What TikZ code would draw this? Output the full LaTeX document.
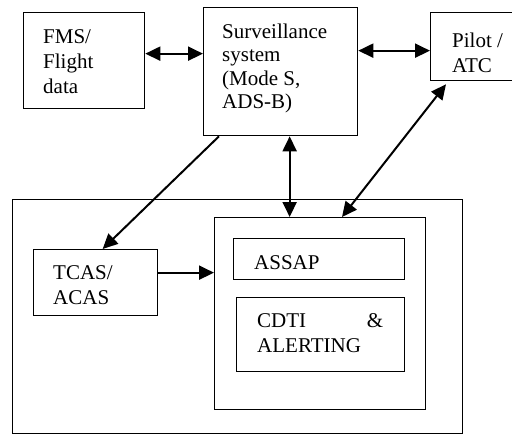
\documentclass[tikz,border=0pt]{standalone}
\usepackage{fontspec}
\setmainfont{Liberation Serif}
\usetikzlibrary{arrows.meta}
\tikzset{
  box/.style={draw, line width=1.3pt, inner sep=0pt, anchor=north west},
  lbl/.style={anchor=base west, inner sep=0pt, font=\fontsize{21}{25}\selectfont},
  tip/.tip={Triangle[length=15pt,width=14pt]},
  link/.style={line width=2pt, -tip},
  dlink/.style={line width=2pt, tip-tip}
}
\newcommand{\lines}[1]{\begin{tabular}[t]{@{}l@{}}#1\end{tabular}}
\begin{document}
\begin{tikzpicture}[x=1pt,y=-1pt]
  \useasboundingbox (0,0) rectangle (512,434);
  % boxes
  \node[box, minimum width=121pt, minimum height=96pt]  (fms)   at (23,12)  {};
  \node[box, minimum width=154pt, minimum height=128pt] (surv)  at (203,7)  {};
  \node[box, minimum width=86pt,  minimum height=68pt]  (pilot) at (430,12) {};
  \node[box, minimum width=450pt, minimum height=234pt] (outer) at (12,199) {};
  \node[box, minimum width=211pt, minimum height=192pt] (panel) at (214,217) {};
  \node[box, minimum width=171pt, minimum height=41pt]  (assap) at (233,238) {};
  \node[box, minimum width=168pt, minimum height=74pt]  (cdti)  at (236,297) {};
  \node[box, minimum width=124pt, minimum height=66pt]  (tcas)  at (33,249)  {};
  % labels
  \node[lbl] (fmstext)   at (43,43)  {\lines{FMS/\\Flight\\data}};
  \node[lbl, font=\fontsize{21}{23.5}\selectfont] (survtext) at (222,38)
    {\lines{Surveillance\\system\\(Mode S,\\ADS-B)}};
  \node[lbl] (pilottext) at (452,47) {\lines{Pilot /\\ATC}};
  \node[lbl] (tcastext)  at (53,279) {\lines{TCAS/\\ACAS}};
  \node[lbl] (assaptext) at (254,269) {ASSAP};
  \node[lbl] (cdtitext)  at (257,327) {\lines{\hbox to 126pt{CDTI\hfill\&}\\ALERTING}};
  % connectors
  \draw[dlink] ([yshift=7pt]fms.east) -- ([yshift=7pt]fms.east -| surv.west);
  \draw[dlink] ([yshift=-4pt]pilot.west -| surv.east) -- ([yshift=-4pt]pilot.west);
  \draw[link]  ([xshift=16pt]surv.south west) -- ([xshift=7pt]tcas.north);
  \draw[dlink] ([xshift=9pt]surv.south) -- ([xshift=9pt]surv.south |- panel.north);
  \draw[dlink] ([xshift=16pt,yshift=-3pt]pilot.south west) -- ([xshift=128pt]panel.north west);
  \draw[link]  ([yshift=10pt]tcas.east) -- ([yshift=10pt]tcas.east -| panel.west);
\end{tikzpicture}
\end{document}
